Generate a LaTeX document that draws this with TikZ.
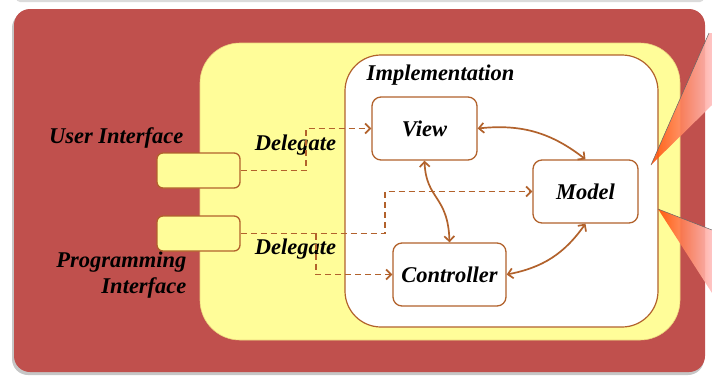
\documentclass[tikz,border=0pt]{standalone}
\usepackage{fontspec}
\setmainfont{Liberation Serif}
\usetikzlibrary{arrows.meta}
\definecolor{panelred}{HTML}{C0504D}
\definecolor{paleyellow}{HTML}{FFFD99}
\definecolor{rust}{RGB}{178,98,44}
\tikzset{barb/.tip={Straight Barb[length=5pt,width=10pt]}}
\begin{document}
\begin{tikzpicture}[x=1pt,y=-1pt,
  lbl/.style={font=\bfseries\itshape\fontsize{22.5}{25}\selectfont},
  comp/.style={draw=rust, line width=1.3pt, rounded corners=9pt, fill=white,
    minimum height=63pt, inner sep=0pt, lbl},
  port/.style={draw=rust, line width=1.3pt, rounded corners=6pt, fill=paleyellow,
    minimum width=83pt, minimum height=35pt, inner sep=0pt},
  link/.style={rust, line width=1.7pt, {barb}-{barb}},
  deleg/.style={rust, line width=1.8pt, dash pattern=on 6pt off 4pt, -{barb}},
  wedge/.style={left color=orange!60!red, middle color=red!65!black,
    right color=red!25, opacity=0.9},
]
\useasboundingbox (0,0) rectangle (712,376);

% shadow of the panel above and of the main panel
\fill[gray!28, rounded corners=4pt] (16,-8) rectangle (704,2);
\fill[gray!45, rounded corners=16pt] (12,12) rectangle (704,375);
% component frame
\fill[panelred, rounded corners=16pt] (14,9) rectangle (705,372);
\filldraw[fill=paleyellow, draw=paleyellow!75!rust, line width=0.6pt,
  rounded corners=40pt] (200,43) rectangle (680,340);
\filldraw[fill=white, draw=rust, line width=1.2pt, rounded corners=36pt]
  (345,55) rectangle (658,327);

% labels
\node[lbl, anchor=base] (impl) at (440.5,80) {Implementation};
\node[lbl, anchor=base east] (uilbl) at (187,143) {User Interface};
\node[lbl, anchor=base east] (pilbl1) at (190,267) {Programming};
\node[lbl, anchor=base east] (pilbl2) at (190,293) {Interface};
\node[lbl, anchor=base] (del1) at (295.5,150) {Delegate};
\node[lbl, anchor=base] (del2) at (295.5,254) {Delegate};

% ports
\node[port] (ui) at (198.5,170.5) {};
\node[port] (pi) at (198.5,233.5) {};

% components
\node[comp, minimum width=105pt] (view) at (424.5,128.5) {View};
\node[comp, minimum width=105pt] (model) at (585.5,191.5) {Model};
\node[comp, minimum width=113pt] (ctrl) at (449.5,274.5) {Controller};

% delegation connectors
\coordinate (j0) at (306,170.5);
\coordinate (j1) at (316,233.5);
\coordinate (j2) at (385,233.5);
\draw[deleg] (ui.east) -- (j0) |- (view.west);
\draw[deleg] (pi.east) -- (j2) |- (model.west);
\draw[deleg] (j1) |- (ctrl.west);

% collaborations
\draw[link] (view.east) to[bend left=22] (model.north);
\draw[link] (view.south) .. controls (426,200) and (448,195) .. (ctrl.north);
\draw[link] (ctrl.east) to[bend right=22] (model.south);

% callout pointers
\shade[wedge] (709,33) -- (712,33) -- (712,105) -- (651,165) -- cycle;
\draw[black!60, line width=0.5pt] (709,33) -- (651,165);
\shade[wedge] (658,209) -- (712,230) -- (712,293) -- cycle;
\draw[black!60, line width=0.5pt] (658,209) -- (712,230);
\end{tikzpicture}
\end{document}
